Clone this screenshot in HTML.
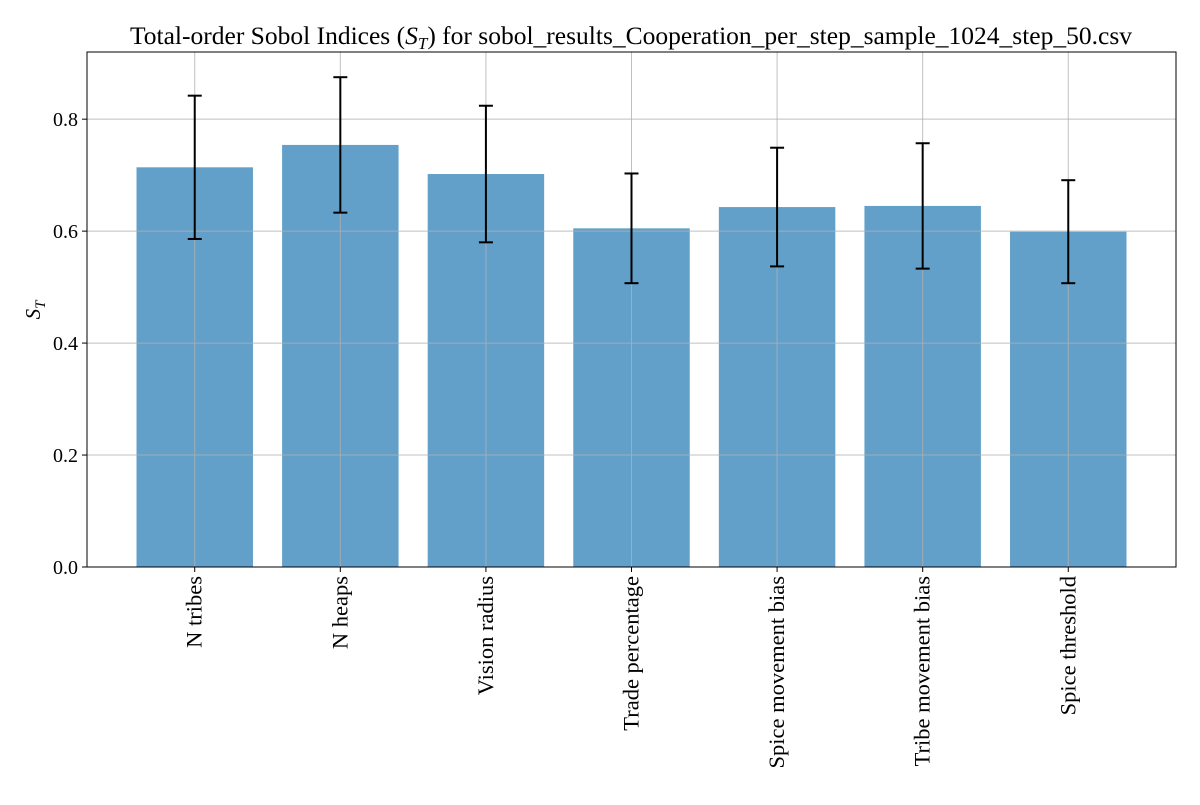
<!DOCTYPE html>
<html><head><meta charset="utf-8"><style>
body{margin:0;background:#fff}
text{font-family:"Liberation Serif","DejaVu Serif",serif;fill:#000}
</style></head><body>
<svg id="chart" width="1200" height="800"></svg>
<script>
const categories=["N tribes","N heaps","Vision radius","Trade percentage","Spice movement bias","Tribe movement bias","Spice threshold"];
const values=[0.714,0.754,0.702,0.605,0.643,0.645,0.599];
const errors=[0.128,0.121,0.122,0.098,0.106,0.112,0.092];
const yTicks=[0.0,0.2,0.4,0.6,0.8];
const yTickLabels=["0.0","0.2","0.4","0.6","0.8"];
const NS="http://www.w3.org/2000/svg";
const svg=document.getElementById('chart');
const L=87,R=1176,T=52,B=567;
const xMin=-0.74,xMax=categories.length-1+0.74;
const yMin=0,yMax=0.92;
function xs(v){return L+(v-xMin)/(xMax-xMin)*(R-L);}
function ys(v){return B-(v-yMin)/(yMax-yMin)*(B-T);}
function mk(tag,attrs,parent){const e=document.createElementNS(NS,tag);for(const k in attrs)e.setAttribute(k,attrs[k]);(parent||svg).appendChild(e);return e;}
const bw=0.8*(xs(1)-xs(0));
categories.forEach((c,i)=>{
  const r=mk('rect',{x:xs(i)-bw/2,y:ys(values[i]),width:bw,height:ys(0)-ys(values[i]),fill:'#1f77b4','fill-opacity':0.7});
  
  
});
const grid=mk('g',{});


yTicks.forEach(v=>{mk('line',{x1:L,x2:R,y1:ys(v),y2:ys(v),stroke:'#b0b0b0','stroke-width':1,'stroke-opacity':0.8},grid);});
categories.forEach((c,i)=>{mk('line',{x1:xs(i),x2:xs(i),y1:T,y2:B,stroke:'#b0b0b0','stroke-width':1,'stroke-opacity':0.8},grid);});
categories.forEach((c,i)=>{
  const g=mk('g',{stroke:'#000','stroke-width':2});
  
  
  const x=xs(i),y1=ys(values[i]+errors[i]),y2=ys(values[i]-errors[i]);
  mk('line',{x1:x,x2:x,y1:y1,y2:y2},g);
  mk('line',{x1:x-7,x2:x+7,y1:y1,y2:y1},g);
  mk('line',{x1:x-7,x2:x+7,y1:y2,y2:y2},g);
  mk('line',{x1:x,x2:x,y1:B,y2:B+5,stroke:'#000'});
  const t=mk('text',{transform:`translate(${x+7},${B+9}) rotate(-90)`,'text-anchor':'end','font-size':22.5});
  t.textContent=c;
  
  
});
yTicks.forEach((v,i)=>{
  mk('line',{x1:L-5,x2:L,y1:ys(v),y2:ys(v),stroke:'#000'});
  const t=mk('text',{x:L-9,y:ys(v)+7,'text-anchor':'end','font-size':20});
  t.textContent=yTickLabels[i];
  
  
});
const frame=mk('rect',{x:L,y:T,width:R-L,height:B-T,fill:'none',stroke:'#000','stroke-width':1});


const yl=mk('text',{transform:'translate(40,310) rotate(-90)','text-anchor':'middle','font-size':21,'font-style':'italic'});
yl.innerHTML='S<tspan font-size="15" dy="5">T</tspan>';


const title=mk('text',{x:631,y:44,'text-anchor':'middle','font-size':25.5});
title.innerHTML='Total-order Sobol Indices (<tspan font-style="italic">S</tspan><tspan font-style="italic" font-size="17" dy="5">T</tspan><tspan dy="-5">) for sobol_results_Cooperation_per_step_sample_1024_step_50.csv</tspan>';


</script>
</body></html>
